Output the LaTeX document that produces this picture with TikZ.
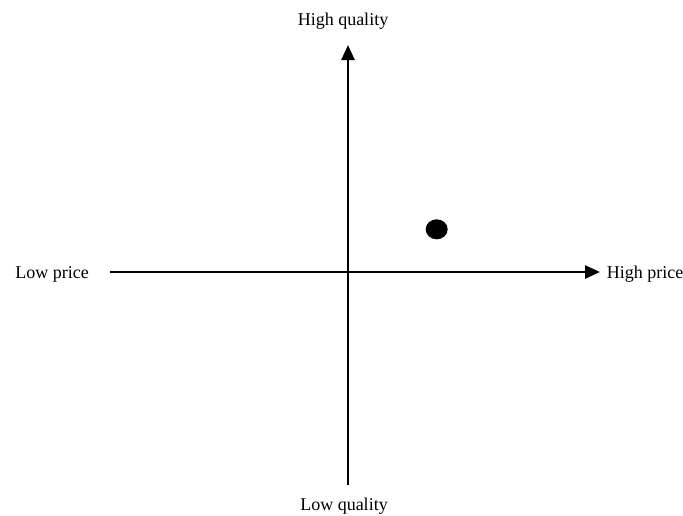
\documentclass[tikz,border=0pt]{standalone}
\usepackage{fontspec}
\setmainfont{Liberation Serif}
\usetikzlibrary{arrows.meta,shapes.geometric}
\begin{document}
\begin{tikzpicture}[x=1pt,y=-1pt,
  axis/.style={line width=2.5pt,-{Triangle[length=15pt,width=13pt]}},
  lbl/.style={font=\fontsize{18}{20}\selectfont,inner sep=0pt}]
\useasboundingbox (0,0) rectangle (683,515);
\node[lbl] (hq) at (343,21) {High quality};
\node[lbl] (lq) at (344,506) {Low quality};
\node[lbl] (lp) at (52,274) {Low price};
\node[lbl] (hp) at (645,274) {High price};
\coordinate (vbot) at (348,485);
\coordinate (vtop) at (348,45);
\coordinate (hleft) at (110,272);
\coordinate (hright) at (600,272);
\draw[axis] (vbot) -- (vtop);
\draw[axis] (hleft) -- (hright);
\node[ellipse,fill=black,inner sep=0pt,minimum width=22pt,minimum height=20pt] (dot) at (436.7,229.3) {};
\end{tikzpicture}
\end{document}
